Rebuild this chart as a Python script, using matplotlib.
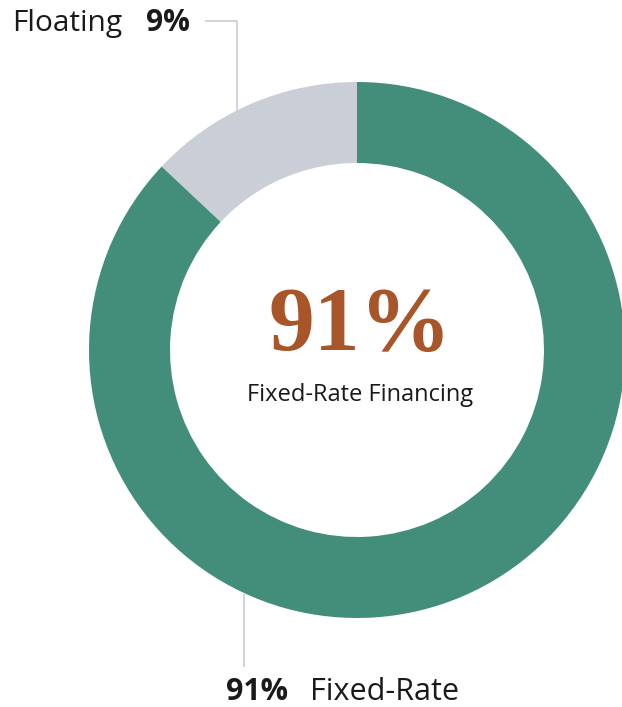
import matplotlib
matplotlib.use("Agg")
import matplotlib.pyplot as plt

categories = ["Floating", "Fixed-Rate"]
label_pcts = [9, 91]
drawn_shares = [13, 87]   # wedge sizes as drawn in the reference
colors = ["#caced7", "#438e7a"]
center_value = "91%"
center_caption = "Fixed-Rate Financing"

W, H = 622, 707
fig = plt.figure(figsize=(W / 100, H / 100), dpi=100)
ax = fig.add_axes([0, 0, 1, 1])
ax.set_xlim(0, W)
ax.set_ylim(0, H)
ax.set_aspect("equal")
ax.axis("off")

def Y(y):
    return H - y

cx, cy, R, r_in = 357, 350, 268, 187
ax.pie(drawn_shares, colors=colors, startangle=90, counterclock=True,
       radius=R, center=(cx, Y(cy)),
       wedgeprops=dict(width=R - r_in, linewidth=0))
ax.set_xlim(0, W)
ax.set_ylim(0, H)

line_c = "#c8ccd4"
ax.plot([205, 237, 237], [Y(21), Y(21), Y(112)], color=line_c, lw=1.2, solid_capstyle="butt")
ax.plot([244, 244], [Y(594), Y(667)], color=line_c, lw=1.2, solid_capstyle="butt")

sans = "Open Sans"
ax.text(12, Y(23), categories[0], fontsize=21.5, family=sans, color="#1a1a1a",
        ha="left", va="center")
ax.text(146, Y(23), f"{label_pcts[0]}%", fontsize=21.5, family=sans, weight="bold",
        color="#1a1a1a", ha="left", va="center")

ax.text(226, Y(692), f"{label_pcts[1]}%", fontsize=22, family=sans, weight="bold",
        color="#1a1a1a", ha="left", va="center")
ax.text(310, Y(692), categories[1], fontsize=22, family=sans, color="#1a1a1a",
        ha="left", va="center")

ax.text(360, Y(328), center_value, fontsize=66, family="Liberation Serif",
        weight="bold", color="#a8552a", ha="center", va="center")
ax.text(cx + 3, Y(395), center_caption, fontsize=17, family=sans, color="#1a1a1a",
        ha="center", va="center")

fig.savefig("out.png", dpi=100)
